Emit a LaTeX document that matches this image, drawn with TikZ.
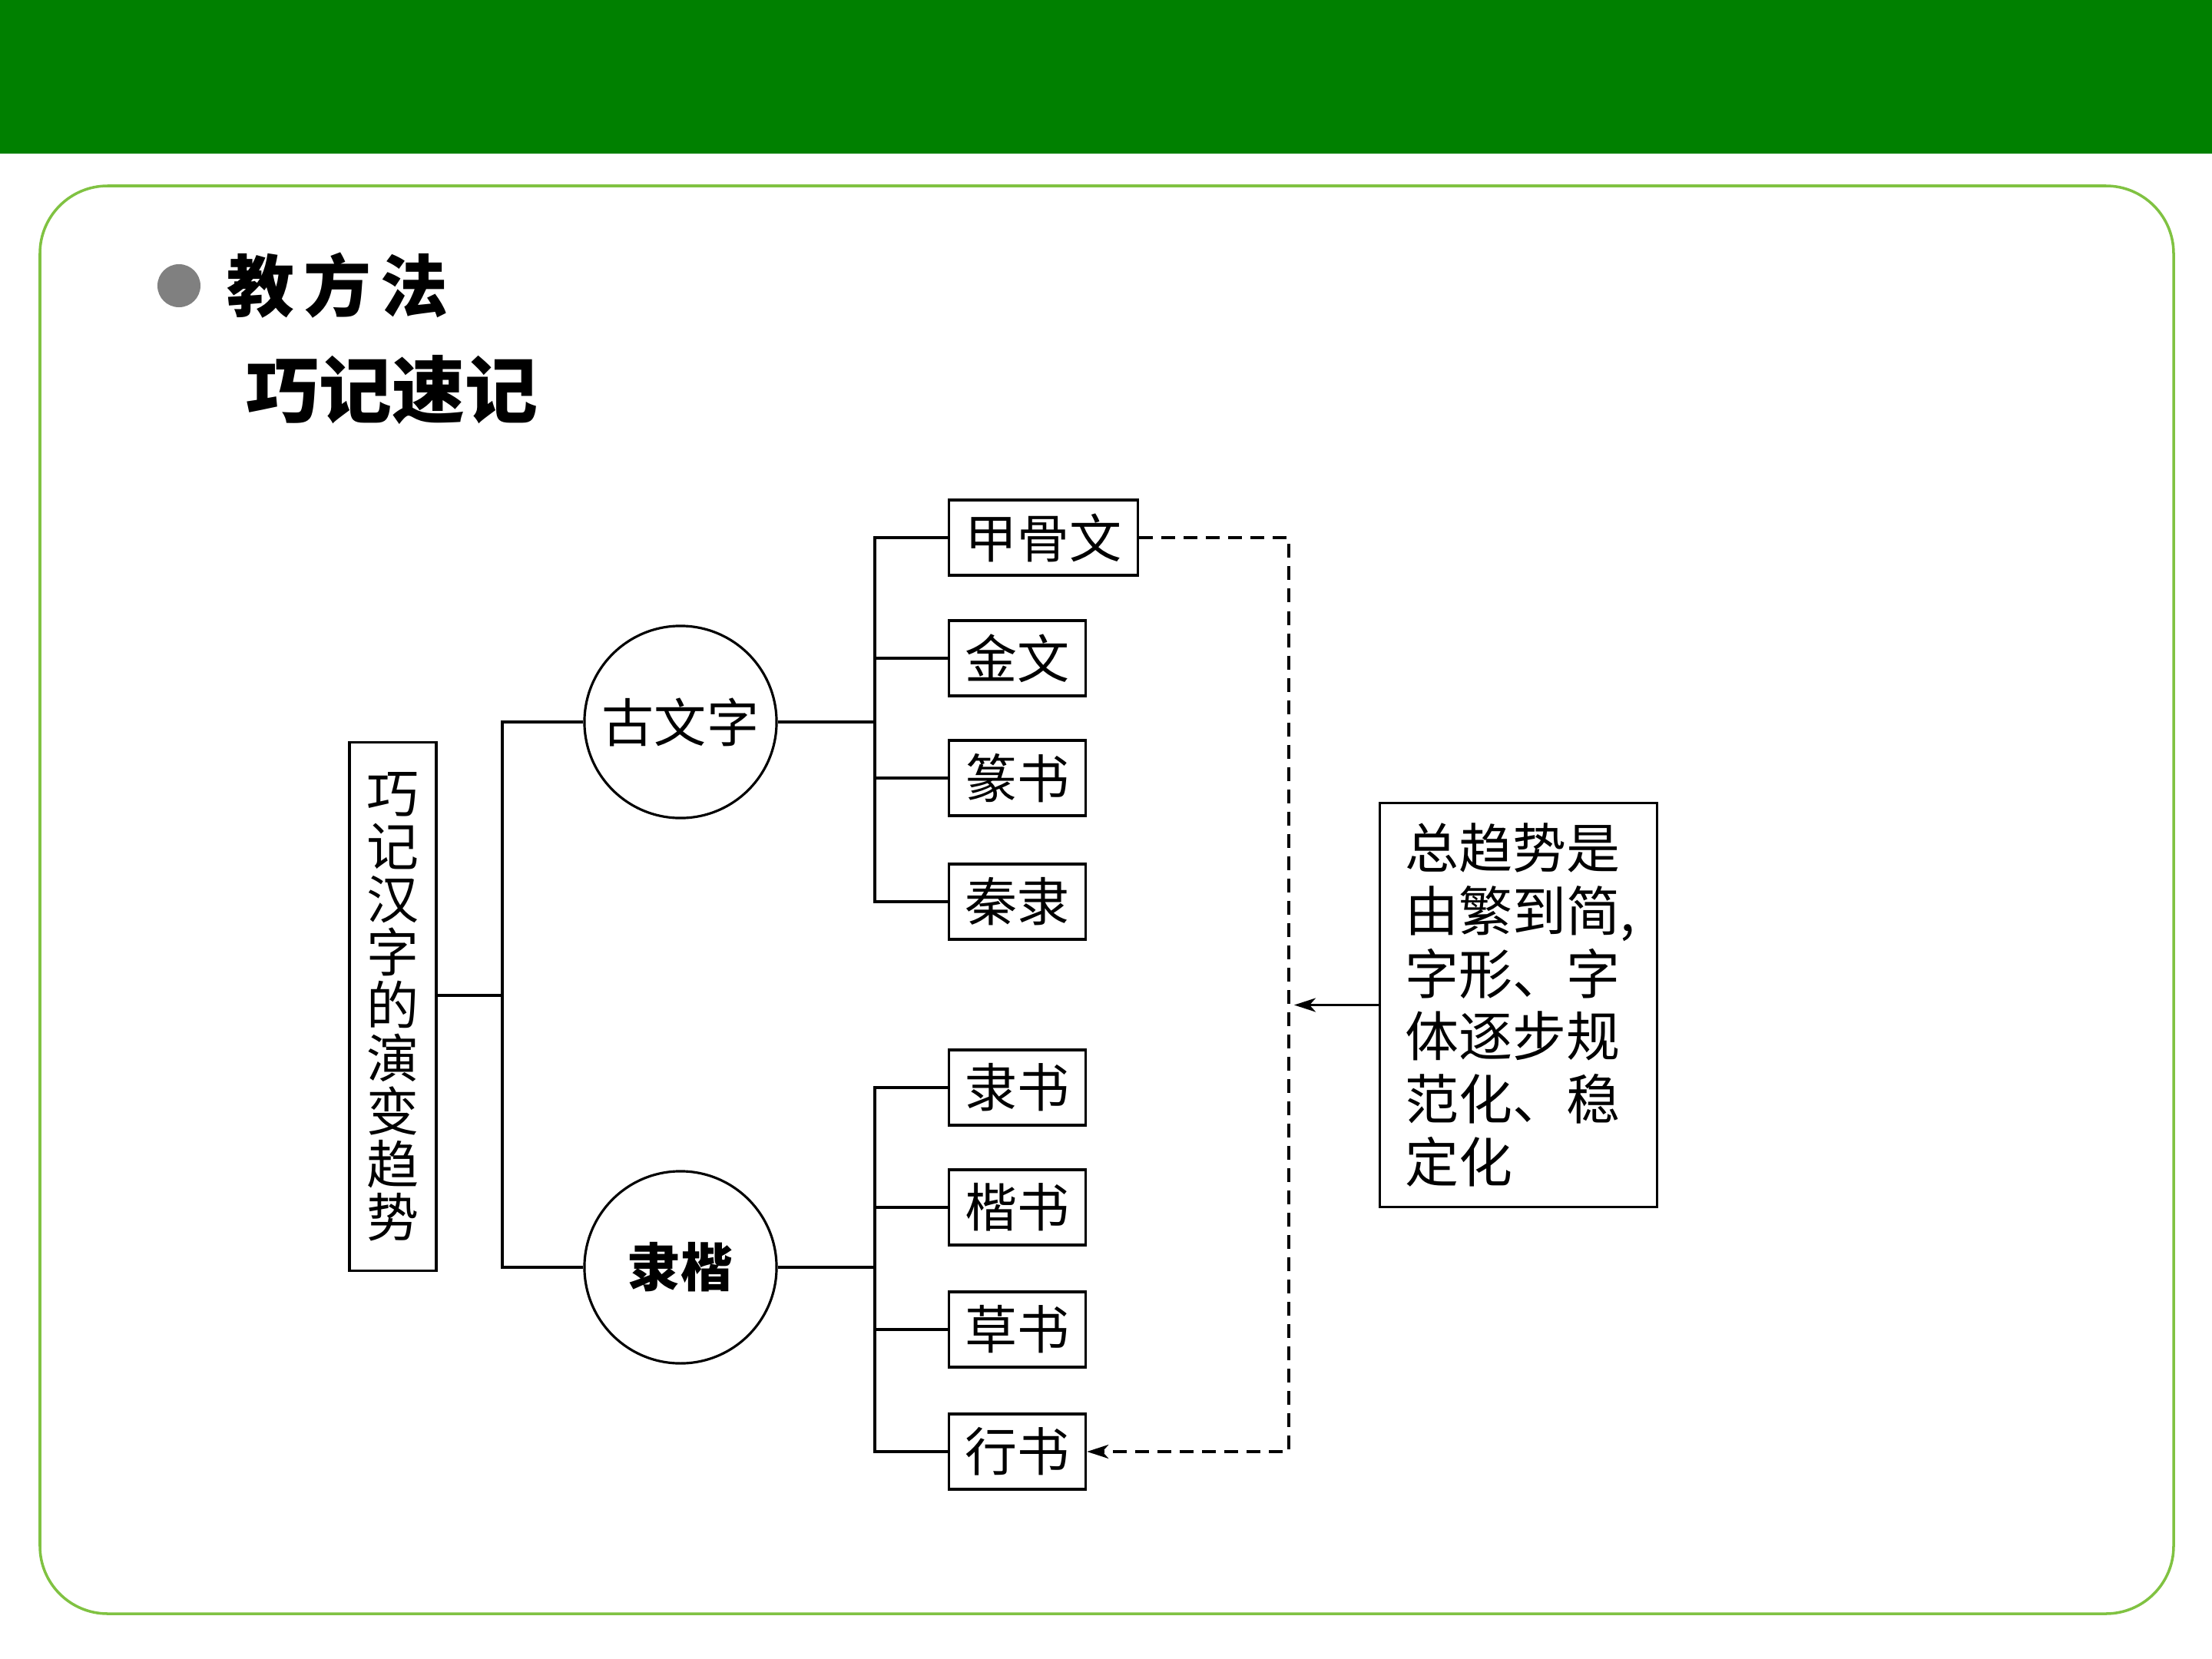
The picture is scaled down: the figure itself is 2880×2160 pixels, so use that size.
\documentclass[tikz,border=0pt]{standalone}
\usepackage{fontspec}
\newfontfamily\cjk{Noto Sans CJK SC}
\usetikzlibrary{arrows.meta}
\definecolor{band}{RGB}{0,128,0}
\definecolor{framec}{RGB}{128,194,66}
\definecolor{bulletc}{RGB}{128,128,128}
\newcommand{\diagfont}{\cjk\fontsize{19.35pt}{23pt}\selectfont}
\newcommand{\vertfont}{\cjk\fontsize{19.35pt}{19.63pt}\selectfont}
\newcommand{\sumfont}{\cjk\fontsize{19.9pt}{23.3pt}\selectfont}
\begin{document}
\begin{tikzpicture}[x=0.01cm,y=-0.01cm,
  conn/.style={line width=0.9pt,black},
  dashline/.style={line width=0.9pt,dash pattern=on 0.18cm off 0.11cm},
  tipstyle/.style={-{Stealth[length=0.28cm,width=0.18cm,inset=0.08cm]}},
  leafbox/.style={draw,line width=0.9pt,inner xsep=0.21cm,inner ysep=0pt,minimum height=0.98cm,font=\diagfont,anchor=west},
  groupcirc/.style={draw,circle,line width=0.9pt,minimum size=2.5cm,inner sep=0pt,font=\diagfont}]
\useasboundingbox (0,0) rectangle (2880,2160);
% header band and frame
\fill[band] (0,0) rectangle (2880,200);
\draw[framec,line width=1pt,rounded corners=0.88cm] (52,242) rectangle (2830,2101);
% titles
\node[circle,fill=bulletc,minimum size=0.56cm,inner sep=0pt] (bul) at (233,372) {};
\node[anchor=west,inner sep=0pt,font=\cjk\bfseries\fontsize{25pt}{30pt}\selectfont] (t1) at (295,372) {教\hspace{0.12cm}方\hspace{0.12cm}法};
\node[anchor=west,inner sep=0pt,font=\cjk\bfseries\fontsize{27pt}{32pt}\selectfont] (t2) at (320,508) {巧记速记};
% root
\node[draw,line width=0.9pt,minimum width=1.13cm,minimum height=6.87cm,inner sep=0pt,align=center,font=\vertfont] (L) at (511.5,1310.5) {巧\\记\\汉\\字\\的\\演\\变\\趋\\势};
% groups
\node[groupcirc] (gu) at (886,940) {古文字};
\node[groupcirc] (li) at (886,1650) {\bfseries 隶楷};
% leaves
\node[leafbox] (b1) at (1234,700) {甲骨文};
\node[leafbox] (b2) at (1234,857) {金文};
\node[leafbox] (b3) at (1234,1013) {篆书};
\node[leafbox] (b4) at (1234,1174) {秦隶};
\node[leafbox] (b5) at (1234,1416) {隶书};
\node[leafbox] (b6) at (1234,1572) {楷书};
\node[leafbox] (b7) at (1234,1731) {草书};
\node[leafbox] (b8) at (1234,1890) {行书};
% summary
\node[draw,line width=0.9pt,minimum width=3.6cm,minimum height=5.25cm,text width=2.94cm,inner xsep=0.33cm,inner ysep=0pt,align=left,font=\sumfont] (S) at (1977,1308.5) {总趋势是\\由繁到简,\\字形、字\\体逐步规\\范化、稳\\定化};
% connectors
\coordinate (j1) at (654,1296);
\coordinate (j2) at (1139,0);
\coordinate (dv) at (1678,0);
\draw[conn] (L.east |- j1) -- (j1);
\draw[conn] (gu.west) -| (j1) |- (li.west);
\draw[conn] (gu.east) -- (gu.east -| j2);
\draw[conn] (li.east) -- (li.east -| j2);
\draw[conn] (b1.west) -- (b1.west -| j2) |- (b4.west);
\draw[conn] (b2.west) -- (b2.west -| j2);
\draw[conn] (b3.west) -- (b3.west -| j2);
\draw[conn] (b5.west) -- (b5.west -| j2) |- (b8.west);
\draw[conn] (b6.west) -- (b6.west -| j2);
\draw[conn] (b7.west) -- (b7.west -| j2);
\draw[dashline,tipstyle] (b1.east) -| (dv |- b8.east) -- (b8.east);
\draw[conn,tipstyle,shorten >=0.07cm] (S.west) -- (S.west -| dv);
\end{tikzpicture}
\end{document}
